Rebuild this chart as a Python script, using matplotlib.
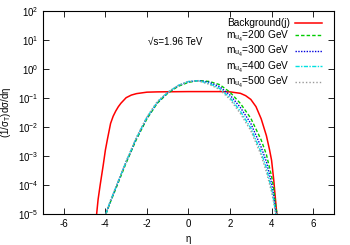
import numpy as np
import matplotlib
matplotlib.use("Agg")
import matplotlib.pyplot as plt

plt.rcParams['font.family'] = ['Liberation Sans', 'DejaVu Sans']
plt.rcParams['mathtext.fontset'] = 'custom'
plt.rcParams['mathtext.rm'] = 'Liberation Sans'
plt.rcParams['mathtext.it'] = 'Liberation Sans'

# Background (j)
eta_bg = [-4.42, -4.35, -4.25, -4.1, -4.0, -3.9, -3.75, -3.625, -3.5, -3.375, -3.25, -3.0, -2.75, -2.5,
          -2.0, -1.5, 0.0, 1.5, 2.0, 2.5, 2.75, 3.0, 3.25, 3.5, 3.75, 3.9, 4.0, 4.1, 4.2, 4.25]
log_bg = [-5.0, -4.5, -4.0, -3.3, -2.8, -2.42, -1.88, -1.63, -1.45, -1.30, -1.18, -0.99, -0.90, -0.85,
          -0.80, -0.79, -0.78, -0.78, -0.79, -0.84, -0.92, -1.05, -1.3, -1.72, -2.3, -2.78, -3.15,
          -3.8, -4.6, -5.0]

eta_sig = [-3.97, -3.75, -3.5, -3.25, -3.0, -2.5, -2.0, -1.5, -1.0, -0.5, 0.0, 0.5, 1.0,
           1.5, 2.0, 2.5, 3.0, 3.5, 3.75, 4.0, 4.1, 4.2, 4.27]
log_200 = [-5.0, -4.58, -4.14, -3.69, -3.24, -2.42, -1.72, -1.18, -0.84, -0.60, -0.46, -0.40, -0.43,
           -0.54, -0.80, -1.19, -1.70, -2.45, -2.95, -3.70, -4.10, -4.75, -5.0]
log_300 = [-5.0, -4.55, -4.11, -3.66, -3.21, -2.39, -1.69, -1.16, -0.82, -0.58, -0.44, -0.40, -0.46,
           -0.61, -0.90, -1.33, -1.88, -2.70, -3.20, -3.95, -4.35, -4.90, -5.0]
log_400 = [-5.0, -4.53, -4.09, -3.65, -3.19, -2.37, -1.67, -1.14, -0.81, -0.57, -0.43, -0.41, -0.50,
           -0.67, -0.99, -1.46, -2.04, -2.88, -3.42, -4.15, -4.52, -5.0, -5.0]
log_500 = [-5.0, -4.52, -4.08, -3.64, -3.18, -2.35, -1.65, -1.12, -0.80, -0.57, -0.43, -0.42, -0.53,
           -0.71, -1.05, -1.54, -2.13, -2.98, -3.55, -4.25, -4.60, -5.0, -5.0]

labels = ['Background(j)', r'm$_{\mathregular{u_4}}$=200 GeV', r'm$_{\mathregular{u_4}}$=300 GeV',
          r'm$_{\mathregular{u_4}}$=400 GeV', r'm$_{\mathregular{u_4}}$=500 GeV']
xticks = [-6, -4, -2, 0, 2, 4, 6]
yticks = [1e-5, 1e-4, 1e-3, 1e-2, 1e-1, 1e0, 1e1, 1e2]

fig = plt.figure(figsize=(3.5, 2.45), dpi=100)
ax = fig.add_axes([0.123, 0.127, 0.831, 0.828])

ax.plot(eta_bg, 10**np.array(log_bg), color='#ff0000', lw=1.1, ls='-', label=labels[0])
ax.plot(eta_sig, 10**np.array(log_200), color='#00cc00', lw=1.0, ls=(0, (2.5, 1.5)), label=labels[1])
ax.plot(eta_sig, 10**np.array(log_300), color='#0000dd', lw=1.0, ls=(0, (1, 1)), label=labels[2])
ax.plot(eta_sig, 10**np.array(log_400), color='#00e0e0', lw=1.0, ls=(0, (3, 1, 1, 1)), label=labels[3])
ax.plot(eta_sig, 10**np.array(log_500), color='#999999', lw=1.0, ls=(0, (1, 1.5)), label=labels[4])

ax.set_yscale('log')
ax.set_xlim(-7, 7)
ax.set_ylim(1e-5, 1e2)
ax.set_xticks(xticks)
ax.set_yticks(yticks)
ax.minorticks_off()
ax.tick_params(direction='in', top=True, right=True, labelsize=7, length=4, width=0.6)
ax.set_xticklabels([str(t) for t in xticks])
for s in ax.spines.values():
    s.set_linewidth(0.8)

ax.set_xlabel('η', fontsize=7, labelpad=4)
ax.set_ylabel(r'(1/σ$_{\mathregular{T}}$)dσ/dη', fontsize=7, labelpad=3)
ax.text(-1.95, 8.5, '√s=1.96 TeV', fontsize=7, va='center', ha='left')

leg = ax.legend(loc='upper right', bbox_to_anchor=(0.9725, 0.985), frameon=False,
                fontsize=7.3, markerfirst=False,
                handlelength=2.65, handletextpad=0.5, labelspacing=0.05,
                borderaxespad=0.0)
for col in leg._legend_handle_box.get_children():
    col.align = 'right'

fig.savefig('out.png', dpi=100)
